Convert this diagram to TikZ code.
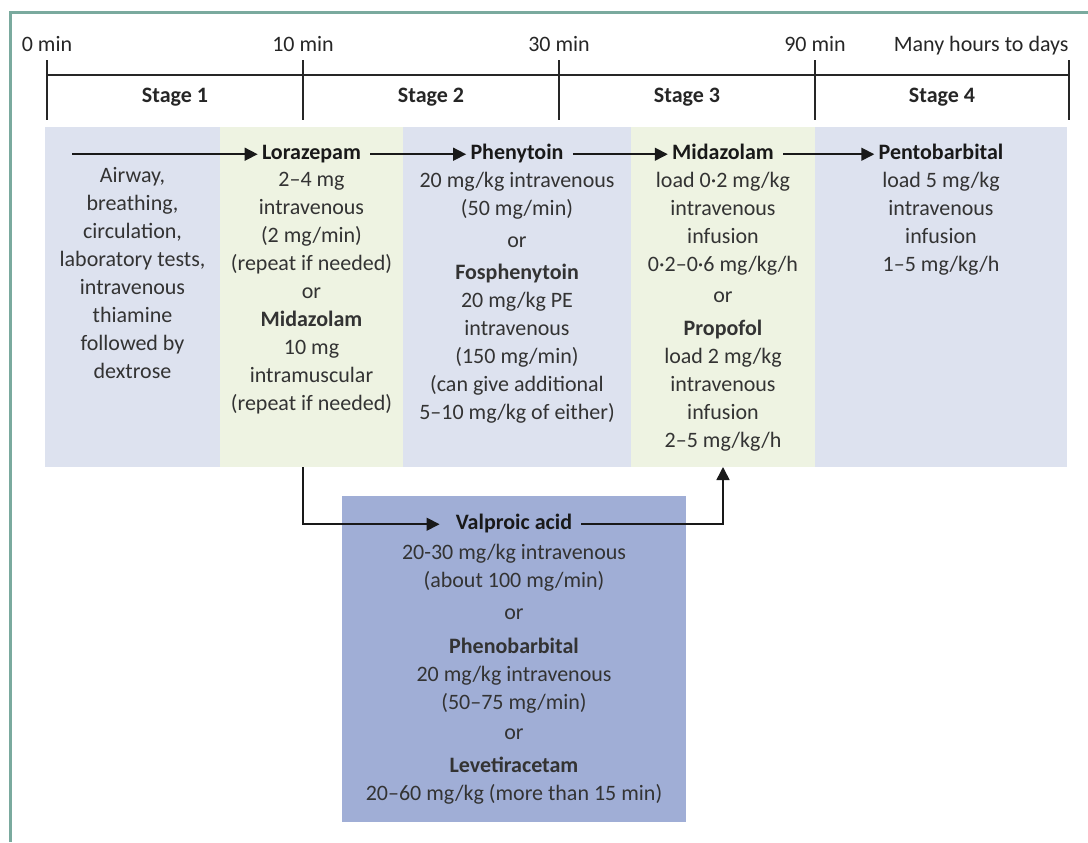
\documentclass[tikz,border=0pt]{standalone}
\usepackage{fontspec}
\setmainfont{Carlito}
\usetikzlibrary{arrows.meta,positioning}

\definecolor{framegreen}{RGB}{122,170,158}
\definecolor{panelblue}{RGB}{221,226,239}
\definecolor{panelgreen}{RGB}{238,243,226}
\definecolor{boxblue}{RGB}{160,174,214}

\tikzset{
  panel/.style={anchor=north west, inner sep=0pt, outer sep=0pt},
  rule/.style={line width=0.8pt, black!85},
  flow/.style={line width=0.8pt, black!90, -{Triangle[length=6.5pt,width=6.5pt]}},
  timelab/.style={font=\fontsize{11}{14}\selectfont, text=black!85, anchor=base},
  stagelab/.style={font=\fontsize{11}{14}\selectfont\bfseries, text=black!85, anchor=base},
  drug/.style={font=\fontsize{11}{14}\selectfont\bfseries, text=black!90, inner sep=2pt, anchor=base},
  dose/.style={font=\fontsize{11}{14}\selectfont, align=center, text=black!80, inner sep=0pt, anchor=north,
    execute at begin node=\rule{0pt}{9pt}}
}

\begin{document}
\begin{tikzpicture}[x=0.5pt,y=-0.5pt]
\useasboundingbox (0,0) rectangle (1088,842);
\draw[framegreen, line width=1.5pt] (1088,12) -- (10,12) -- (10,842);

% time line
\coordinate (t0) at (47,75);
\coordinate (t10) at (303,75);
\coordinate (t30) at (559,75);
\coordinate (t90) at (815,75);
\coordinate (tend) at (1069,75);
\draw[rule] (t0) -- (tend);
\foreach \t in {t0,t10,t30,t90,tend}
  \draw[rule] ([yshift=7.5pt]\t) -- ([yshift=-22.5pt]\t);

\node[timelab] (l0) at ([yshift=12pt]t0) {0 min};
\node[timelab] (l10) at ([yshift=12pt]t10) {10 min};
\node[timelab] (l30) at ([yshift=12pt]t30) {30 min};
\node[timelab] (l90) at ([yshift=12pt]t90) {90 min};
\node[timelab, anchor=base east, inner sep=0pt] (lend) at ([yshift=12pt]tend) {Many hours to days};

\node[stagelab] (s1) at (175,102) {Stage 1};
\node[stagelab] (s2) at (431,102) {Stage 2};
\node[stagelab] (s3) at (687,102) {Stage 3};
\node[stagelab] (s4) at (942,102) {Stage 4};

% stage panels
\node[panel, fill=panelblue, minimum width=87.5pt, minimum height=170pt] (col1) at (45,127) {};
\node[panel, fill=panelgreen, minimum width=91.5pt, minimum height=170pt] (col2) at (220,127) {};
\node[panel, fill=panelblue, minimum width=114pt, minimum height=170pt] (col3) at (403,127) {};
\node[panel, fill=panelgreen, minimum width=92pt, minimum height=170pt] (col4) at (631,127) {};
\node[panel, fill=panelblue, minimum width=126pt, minimum height=170pt] (col5) at (815,127) {};

\node[dose] (abc) at ([yshift=-20pt]col1.north) {Airway,\\breathing,\\circulation,\\laboratory tests,\\intravenous\\thiamine\\followed by\\dextrose};

\node[drug] (loraz) at ([yshift=-16pt]col2.north) {Lorazepam};
\node[dose] (lorazdose) at ([yshift=-6.5pt]loraz.base) {2–4 mg\\intravenous\\(2 mg/min)\\(repeat if needed)\\or\\\textbf{Midazolam}\\10 mg\\intramuscular\\(repeat if needed)};

\node[drug] (pheny) at ([yshift=-16pt]col3.north) {Phenytoin};
\node[dose] (phenydose) at ([yshift=-6.5pt]pheny.base) {20 mg/kg intravenous\\(50 mg/min)\\[2pt]or\\[2pt]\textbf{Fosphenytoin}\\20 mg/kg PE\\intravenous\\(150 mg/min)\\(can give additional\\5–10 mg/kg of either)};

\node[drug] (midaz) at ([yshift=-16pt]col4.north) {Midazolam};
\node[dose] (midazdose) at ([yshift=-6.5pt]midaz.base) {load 0·2 mg/kg\\intravenous\\infusion\\0·2–0·6 mg/kg/h\\[1.5pt]or\\[2.5pt]\textbf{Propofol}\\load 2 mg/kg\\intravenous\\infusion\\2–5 mg/kg/h};

\node[drug] (pento) at ([yshift=-16pt]col5.north) {Pentobarbital};
\node[dose] (pentodose) at ([yshift=-6.5pt]pento.base) {load 5 mg/kg\\intravenous\\infusion\\1–5 mg/kg/h};

% second line box
\node[panel, fill=boxblue, minimum width=172pt, minimum height=163pt] (vpabox) at (342,496) {};
\node[drug] (valp) at ([yshift=-16.5pt]vpabox.north) {Valproic acid};
\node[dose] (valpdose) at ([yshift=-7.5pt]valp.base) {20-30 mg/kg intravenous\\(about 100 mg/min)\\[2pt]or\\[3pt]\textbf{Phenobarbital}\\20 mg/kg intravenous\\(50–75 mg/min)\\[1pt]or\\[2.5pt]\textbf{Levetiracetam}\\20–60 mg/kg (more than 15 min)};

% arrows
\coordinate (abcstart) at (72,152);
\draw[flow] (abcstart |- loraz.mid) -- (loraz.mid west);
\draw[flow, shorten <=2.5pt] (loraz.mid east) -- (pheny.mid west);
\draw[flow, shorten <=2.5pt] (pheny.mid east) -- (midaz.mid west);
\draw[flow, shorten <=2.5pt] (midaz.mid east) -- (pento.mid west);
\draw[flow, shorten >=6pt] (t10 |- col2.south) |- (valp.mid west);
\draw[flow, shorten <=2.5pt] (valp.mid east) -| (col4.south);
\end{tikzpicture}
\end{document}
